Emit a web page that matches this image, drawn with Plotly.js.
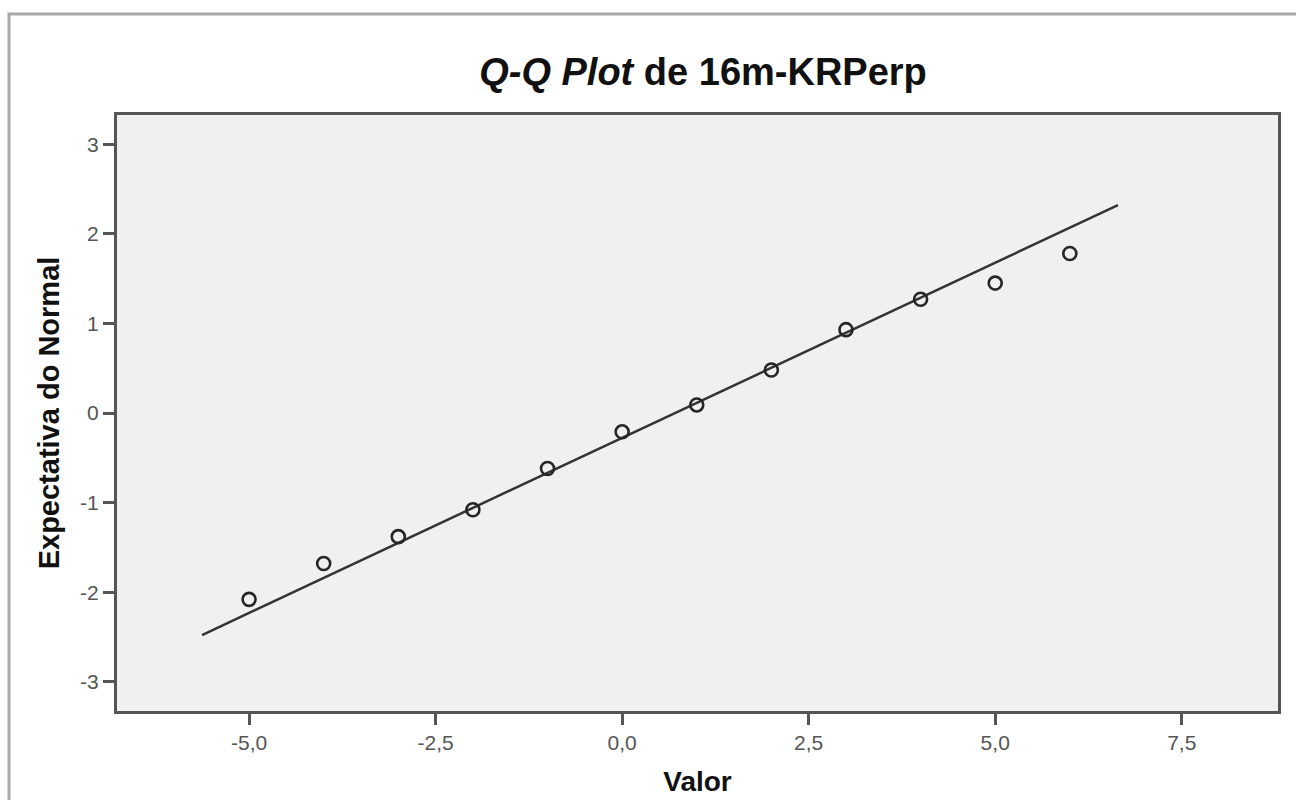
<!DOCTYPE html>
<html>
<head>
<meta charset="utf-8">
<script src="https://cdn.plot.ly/plotly-3.0.1.min.js"></script>
<style>
  html, body { margin: 0; padding: 0; background: #ffffff; }
  #chart { width: 1296px; height: 800px; }
</style>
</head>
<body>
<div id="chart"></div>
<script>
// Observed values (x) and expected normal values (y)
const valores = [-5, -4, -3, -2, -1, 0, 1, 2, 3, 4, 5, 6];
const expectativa = [-2.08, -1.68, -1.38, -1.08, -0.62, -0.21, 0.09, 0.48, 0.93, 1.27, 1.45, 1.78];
// Reference line endpoints
const linhaX = [-5.63, 6.645];
const linhaY = [-2.478, 2.32];
// Tick values and labels
const xTicks = [-5, -2.5, 0, 2.5, 5, 7.5];
const xTickText = ['-5,0', '-2,5', '0,0', '2,5', '5,0', '7,5'];
const yTicks = [-3, -2, -1, 0, 1, 2, 3];
const yTickText = ['-3', '-2', '-1', '0', '1', '2', '3'];

const FONT = 'Liberation Sans, Arial, sans-serif';

const traces = [
  {
    x: linhaX, y: linhaY, type: 'scatter', mode: 'lines',
    line: { color: '#333333', width: 2.5 },
    hoverinfo: 'skip', showlegend: false
  },
  {
    x: valores, y: expectativa, type: 'scatter', mode: 'markers',
    marker: { symbol: 'circle-open', size: 13, color: '#262626', line: { width: 2.6 } },
    showlegend: false
  }
];

const layout = {
  width: 1296, height: 800,
  paper_bgcolor: '#ffffff',
  plot_bgcolor: '#f0f0f0',
  margin: { l: 117, r: 18, t: 115, b: 89 },
  font: { family: FONT, color: '#000000' },
  separators: ',.',
  title: {
    text: '<i>Q-Q Plot</i> de 16m-KRPerp',
    font: { family: FONT, size: 38, weight: 'bold', color: '#111111' },
    x: 703 / 1296, xanchor: 'center', xref: 'container',
    y: 1 - 72 / 800, yanchor: 'middle', yref: 'container'
  },
  xaxis: {
    range: [-6.77, 8.79],
    tickvals: xTicks, ticktext: xTickText,
    ticks: 'outside', ticklen: 11, tickwidth: 3, tickcolor: '#555555',
    tickfont: { family: FONT, size: 21, color: '#555555' },
    showgrid: false, zeroline: false,
    showline: true, mirror: true, linecolor: '#555555', linewidth: 3,
    title: { text: 'Valor', standoff: 19, font: { family: FONT, size: 28, weight: 'bold', color: '#111111' } }
  },
  yaxis: {
    range: [-3.326, 3.326],
    tickvals: yTicks, ticktext: yTickText,
    ticks: 'outside', ticklen: 11, tickwidth: 3, tickcolor: '#555555',
    tickfont: { family: FONT, size: 21, color: '#555555' },
    showgrid: false, zeroline: false,
    showline: true, mirror: true, linecolor: '#555555', linewidth: 3,
    title: { text: 'Expectativa do Normal', standoff: 12, font: { family: FONT, size: 29, weight: 'bold', color: '#111111' } }
  },
  shapes: [
    {
      type: 'rect', xref: 'paper', yref: 'paper',
      x0: (9 - 117) / 1161, x1: (1310 - 117) / 1161,
      y0: -(815 - 711) / 596, y1: 1 + (115 - 14) / 596,
      line: { color: '#aaaaaa', width: 3 }, fillcolor: 'rgba(0,0,0,0)', layer: 'below'
    }
  ]
};

Plotly.newPlot('chart', traces, layout, { displayModeBar: false, staticPlot: true });
</script>
</body>
</html>
